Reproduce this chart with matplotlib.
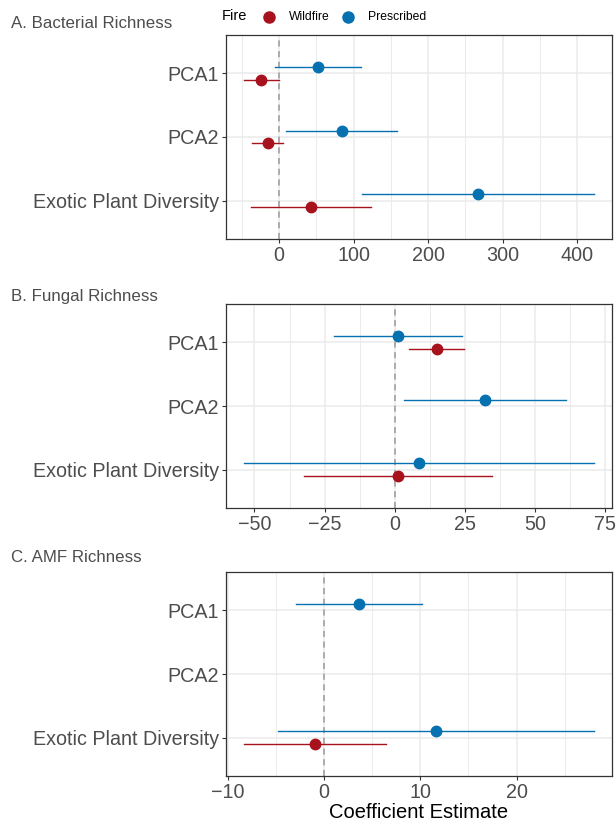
import numpy as np
import matplotlib.pyplot as plt
from matplotlib.lines import Line2D
from matplotlib.ticker import MultipleLocator

plt.rcParams['font.family'] = ['Liberation Sans', 'DejaVu Sans']

predictors = ['PCA1', 'PCA2', 'Exotic Plant Diversity']

# Bacterial richness: estimate, lower, upper (NaN = not in model)
bac_presc = [52.7, 84.3, 267.7]
bac_presc_lo = [-5.4, 8.9, 111.6]
bac_presc_hi = [109.8, 158.9, 423.5]
bac_wild = [-24.1, -15.2, 42.8]
bac_wild_lo = [-47.8, -36.6, -37.5]
bac_wild_hi = [0.0, 5.4, 124.0]

# Fungal richness
fun_presc = [1.3, 32.3, 8.8]
fun_presc_lo = [-21.6, 3.3, -53.9]
fun_presc_hi = [24.1, 61.2, 71.3]
fun_wild = [15.0, np.nan, 1.3]
fun_wild_lo = [5.1, np.nan, -32.5]
fun_wild_hi = [24.9, np.nan, 34.8]

# AMF richness
amf_presc = [3.63, np.nan, 11.65]
amf_presc_lo = [-2.87, np.nan, -4.84]
amf_presc_hi = [10.13, np.nan, 28.1]
amf_wild = [np.nan, np.nan, -0.93]
amf_wild_lo = [np.nan, np.nan, -8.37]
amf_wild_hi = [np.nan, np.nan, 6.4]

W, H = 616, 824

# title, data, major step, axes box in pixels (left, top, right, bottom), title y
panels = [
    ('A. Bacterial Richness', bac_presc, bac_presc_lo, bac_presc_hi,
     bac_wild, bac_wild_lo, bac_wild_hi, 100, (226, 35, 612, 239), 24),
    ('B. Fungal Richness', fun_presc, fun_presc_lo, fun_presc_hi,
     fun_wild, fun_wild_lo, fun_wild_hi, 25, (226, 304, 612, 508), 296),
    ('C. AMF Richness', amf_presc, amf_presc_lo, amf_presc_hi,
     amf_wild, amf_wild_lo, amf_wild_hi, 10, (226, 572, 612, 776), 557),
]

red = '#A8121C'
blue = '#0571B0'
grid_col = '#EBEBEB'

fig = plt.figure(figsize=(W / 100, H / 100), dpi=100)
ypos = np.arange(len(predictors))
dodge = 0.1

for i, (title, pr, pr_lo, pr_hi, wd, wd_lo, wd_hi, step, box, ty) in enumerate(panels):
    l_, t_, r_, b_ = box
    ax = fig.add_axes([l_ / W, 1 - b_ / H, (r_ - l_) / W, (b_ - t_) / H])
    vals = np.array(pr_lo + pr_hi + wd_lo + wd_hi, dtype=float)
    lo, hi = np.nanmin(vals), np.nanmax(vals)
    pad = 0.05 * (hi - lo)
    ax.set_xlim(lo - pad, hi + pad)
    ax.set_ylim(2.6, -0.6)

    ax.xaxis.set_major_locator(MultipleLocator(step))
    ax.xaxis.set_minor_locator(MultipleLocator(step / 2))
    ax.grid(True, which='major', color=grid_col, linewidth=1.1)
    ax.grid(True, which='minor', axis='x', color=grid_col, linewidth=0.7)
    ax.set_axisbelow(True)
    ax.axvline(0, color='#999999', linestyle=(0, (4, 3)), linewidth=1.1, zorder=1.5)

    for est, l, h, off, col in [(pr, pr_lo, pr_hi, -dodge, blue),
                                (wd, wd_lo, wd_hi, dodge, red)]:
        for k in range(len(predictors)):
            if np.isnan(est[k]):
                continue
            y = ypos[k] + off
            ax.plot([l[k], h[k]], [y, y], color=col, linewidth=1.0, zorder=3)
            ax.plot(est[k], y, 'o', color=col, markersize=7.5, zorder=4)

    ax.set_yticks(ypos)
    ax.set_yticklabels(predictors)
    ax.tick_params(axis='both', labelsize=14.2, labelcolor='#4D4D4D',
                   color='#333333', length=3, width=0.8, pad=2)
    ax.tick_params(axis='x', which='minor', length=0)
    for s in ax.spines.values():
        s.set_color('#333333')
        s.set_linewidth(0.9)

    fig.text(11 / W, 1 - ty / H, title, fontsize=12.2,
             color='#4D4D4D', va='center', ha='left')

    if i == 2:
        ax.set_xlabel('Coefficient Estimate', fontsize=14.5, color='black', labelpad=1)

# legend row at top
ly = 1 - 16.5 / H
fig.text(222 / W, ly, 'Fire', fontsize=10.5, va='center', ha='left')
for cx, tx, col, lab in [(269, 289, red, 'Wildfire'), (348, 368, blue, 'Prescribed')]:
    fig.add_artist(Line2D([cx / W], [ly], marker='o', linestyle='none', color=col,
                          markersize=8, transform=fig.transFigure))
    fig.text(tx / W, ly, lab, fontsize=8.7, va='center', ha='left')

fig.savefig('out.png', dpi=100)
